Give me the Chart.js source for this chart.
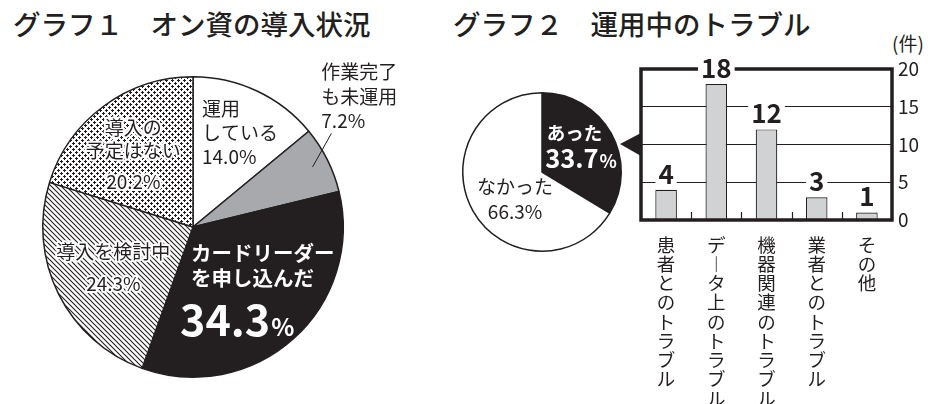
<!DOCTYPE html>
<html>
<head>
<meta charset="utf-8">
<script src="https://cdn.jsdelivr.net/npm/chart.js@4.4.1/dist/chart.umd.min.js"></script>
<style>
  body { margin:0; width:936px; height:404px; background:#fff; position:relative; overflow:hidden;
         font-family:"Noto Sans CJK JP", sans-serif; color:#231f20; }
  .title { position:absolute; top:2px; font-size:27.5px; font-weight:500; line-height:42px; white-space:pre; }
  .unit { position:absolute; left:892px; top:32px; font-size:19px; line-height:22px; }
  canvas { position:absolute; }
</style>
</head>
<body>
<div class="title" style="left:13px">グラフ１　オン資の導入状況</div>
<div class="title" style="left:453px">グラフ２　運用中のトラブル</div>
<div class="unit">(件)</div>
<canvas id="pie1" width="440" height="364" style="left:0;top:40px"></canvas>
<canvas id="pie2" width="190" height="180" style="left:450px;top:80px"></canvas>
<canvas id="bar" width="336" height="374" style="left:600px;top:30px"></canvas>
<script>
// グラフ１ データ
const pie1Categories = ['運用\nしている', '作業完了\nも未運用', 'カードリーダー\nを申し込んだ', '導入を検討中', '導入の\n予定はない'];
const pie1Values = [14.0, 7.2, 34.3, 24.3, 20.2];
// グラフ２ データ
const pie2Categories = ['あった', 'なかった'];
const pie2Values = [33.7, 66.3];
const barCategories = ['患者とのトラブル', 'データ上のトラブル', '機器関連のトラブル', '業者とのトラブル', 'その他'];
const barValues = [4, 18, 12, 3, 1];
const barTicks = [0, 5, 10, 15, 20];

const INK = '#231f20';
const FONT = '"Noto Sans CJK JP", sans-serif';
Chart.defaults.font.family = FONT;
Chart.defaults.color = INK;

// 斜線の模様
function hatchPattern() {
  const c = document.createElement('canvas');
  c.width = c.height = 5;
  const g = c.getContext('2d');
  g.fillStyle = '#fff'; g.fillRect(0, 0, 5, 5);
  g.strokeStyle = INK; g.lineWidth = 1.1;
  g.beginPath();
  g.moveTo(-1, -1); g.lineTo(6, 6);
  g.moveTo(-1, 4); g.lineTo(1, 6);
  g.moveTo(4, -1); g.lineTo(6, 1);
  g.stroke();
  return g.createPattern(c, 'repeat');
}
// 点の模様
function dotPattern() {
  const c = document.createElement('canvas');
  c.width = c.height = 6;
  const g = c.getContext('2d');
  g.fillStyle = '#fff'; g.fillRect(0, 0, 6, 6);
  g.fillStyle = INK;
  [[0, 0], [3, 3]].forEach(([px, py]) => {
    g.fillRect(px + 1, py, 1, 3);
    g.fillRect(px, py + 1, 3, 1);
  });
  return g.createPattern(c, 'repeat');
}

// ラベルの置き場所（半径を1とした位置）
const pie1Place = [
  { x: 0.06, y: [-0.79, -0.625, -0.465], align: 'left' },
  { x: 0.854, y: [-1.03, -0.865, -0.71], align: 'left', leader: [0.89, 0.921, -0.623] },
  { x: -0.013, y: [0.172, 0.338], align: 'left', bold: true, big: [-0.086, 0.726] },
  { x: -0.53, y: [0.166, 0.377], align: 'center', halo: true },
  { x: -0.397, y: [-0.662, -0.51, -0.298], align: 'center', halo: true }
];

function pct(v) { return v.toFixed(1) + '%'; }

const pie1Labels = {
  id: 'pie1Labels',
  afterDatasetsDraw(chart) {
    const ctx = chart.ctx;
    const arcs = chart.getDatasetMeta(0).data;
    ctx.save();
    arcs.forEach((arc, i) => {
      const p = pie1Place[i];
      const { x: cx, y: cy, outerRadius: r, startAngle, endAngle } =
        arc.getProps(['x', 'y', 'outerRadius', 'startAngle', 'endAngle'], true);
      const lines = pie1Categories[i].split('\n');
      if (!p.big) lines.push(pct(pie1Values[i]));
      ctx.textAlign = p.align;
      ctx.textBaseline = 'middle';
      ctx.font = (p.bold ? 'bold 20.5px ' : '19px ') + FONT;
      lines.forEach((t, k) => {
        const tx = cx + p.x * r, ty = cy + p.y[k] * r;
        if (p.halo) {
          ctx.strokeStyle = '#fff'; ctx.lineWidth = 4; ctx.lineJoin = 'round';
          ctx.strokeText(t, tx, ty);
        }
        ctx.fillStyle = p.bold ? '#fff' : INK;
        ctx.fillText(t, tx, ty);
      });
      if (p.big) {
        const num = pie1Values[i].toFixed(1);
        const bx = cx + p.big[0] * r, by = cy + p.big[1] * r;
        ctx.textAlign = 'left';
        ctx.textBaseline = 'alphabetic';
        ctx.fillStyle = '#fff';
        ctx.font = 'bold 43px ' + FONT;
        ctx.fillText(num, bx, by);
        const w = ctx.measureText(num).width;
        ctx.font = 'bold 24px ' + FONT;
        ctx.fillText('%', bx + w + 1, by);
      }
      if (p.leader) {
        const mid = (startAngle + endAngle) / 2;
        ctx.strokeStyle = INK; ctx.lineWidth = 1;
        ctx.beginPath();
        ctx.moveTo(cx + Math.cos(mid) * r * p.leader[0], cy + Math.sin(mid) * r * p.leader[0]);
        ctx.lineTo(cx + p.leader[1] * r, cy + p.leader[2] * r);
        ctx.stroke();
      }
    });
    ctx.restore();
  }
};

new Chart(document.getElementById('pie1'), {
  type: 'pie',
  data: {
    labels: pie1Categories,
    datasets: [{
      data: pie1Values,
      backgroundColor: ['#ffffff', '#a7a9ac', INK, hatchPattern(), dotPattern()],
      borderColor: INK,
      borderWidth: 1.5
    }]
  },
  options: {
    responsive: false,
    animation: false,
    layout: { padding: { left: 42, top: 36, right: 96, bottom: 26 } },
    plugins: { legend: { display: false }, tooltip: { enabled: false } }
  },
  plugins: [pie1Labels]
});

// グラフ２ 円
const pie2Labels = {
  id: 'pie2Labels',
  afterDatasetsDraw(chart) {
    const ctx = chart.ctx;
    const arc = chart.getDatasetMeta(0).data[0];
    const { x: cx, y: cy, outerRadius: r } = arc.getProps(['x', 'y', 'outerRadius'], true);
    ctx.save();
    // あった
    ctx.fillStyle = '#fff';
    ctx.textAlign = 'left';
    ctx.textBaseline = 'middle';
    ctx.font = 'bold 18.5px ' + FONT;
    ctx.fillText(pie2Categories[0], cx + 0.06 * r, cy - 0.49 * r);
    ctx.textBaseline = 'alphabetic';
    ctx.font = 'bold 25.5px ' + FONT;
    const num = pie2Values[0].toFixed(1);
    const bx = cx + 0.04 * r, by = cy - 0.05 * r;
    ctx.fillText(num, bx, by);
    const w = ctx.measureText(num).width;
    ctx.font = 'bold 18px ' + FONT;
    ctx.fillText('%', bx + w + 1, by);
    // なかった
    ctx.fillStyle = INK;
    ctx.textAlign = 'center';
    ctx.textBaseline = 'middle';
    ctx.font = '19px ' + FONT;
    ctx.fillText(pie2Categories[1], cx - 0.34 * r, cy + 0.19 * r);
    ctx.fillText(pct(pie2Values[1]), cx - 0.34 * r, cy + 0.5 * r);
    ctx.restore();
  }
};

new Chart(document.getElementById('pie2'), {
  type: 'pie',
  data: {
    labels: pie2Categories,
    datasets: [{
      data: pie2Values,
      backgroundColor: [INK, '#ffffff'],
      borderColor: INK,
      borderWidth: 1.5
    }]
  },
  options: {
    responsive: false,
    animation: false,
    layout: { padding: { left: 12, top: 12, right: 18, bottom: 8 } },
    plugins: { legend: { display: false }, tooltip: { enabled: false } }
  },
  plugins: [pie2Labels]
});

// グラフ２ 棒
const barDeco = {
  id: 'barDeco',
  afterDatasetsDraw(chart) {
    const { ctx, chartArea: a, scales: { x } } = chart;
    ctx.save();
    ctx.strokeStyle = INK;
    ctx.lineWidth = 1.2;
    for (let i = 0; i < barCategories.length - 1; i++) {
      const bx = Math.round((x.getPixelForValue(i) + x.getPixelForValue(i + 1)) / 2) + 0.5;
      ctx.beginPath(); ctx.moveTo(bx, a.bottom); ctx.lineTo(bx, a.bottom - 8); ctx.stroke();
    }
    // 枠
    ctx.lineWidth = 3.5;
    ctx.strokeRect(a.left, a.top, a.right - a.left, a.bottom - a.top);
    // 円からの吹き出し
    ctx.fillStyle = INK;
    ctx.beginPath();
    ctx.moveTo(a.left, a.top + 64);
    ctx.lineTo(a.left - 21, a.top + 75);
    ctx.lineTo(a.left, a.top + 87);
    ctx.closePath();
    ctx.fill();
    ctx.restore();
  },
  afterDraw(chart) {
    const ctx = chart.ctx;
    const bars = chart.getDatasetMeta(0).data;
    ctx.save();
    ctx.font = 'bold 26px ' + FONT;
    ctx.textAlign = 'center';
    ctx.textBaseline = 'middle';
    bars.forEach((b, i) => {
      const t = String(barValues[i]);
      const ty = b.y - 17;
      const w = ctx.measureText(t).width + 6;
      ctx.fillStyle = '#fff';
      ctx.fillRect(b.x - w / 2, ty - 12, w, 23);
      ctx.fillStyle = INK;
      ctx.fillText(t, b.x, ty + 1);
    });
    ctx.restore();
  }
};

new Chart(document.getElementById('bar'), {
  type: 'bar',
  data: {
    labels: barCategories,
    datasets: [{
      data: barValues,
      backgroundColor: '#d1d2d4',
      borderColor: INK,
      borderWidth: 1.2,
      borderSkipped: 'bottom',
      barPercentage: 0.43,
      categoryPercentage: 1
    }]
  },
  options: {
    responsive: false,
    animation: false,
    layout: { padding: { left: 41, top: 39, right: 0, bottom: 0 } },
    plugins: { legend: { display: false }, tooltip: { enabled: false } },
    scales: {
      x: {
        grid: { display: false },
        border: { display: false },
        ticks: {
          autoSkip: false, maxRotation: 0, minRotation: 0, padding: 7,
          font: { size: 18.5, lineHeight: 1.04 },
          // 縦書き：一文字ずつ改行
          callback(v) { return Array.from(barCategories[v]).map(ch => ch === 'ー' ? '︱' : ch); }
        },
        afterFit(s) { s.height = 184; }
      },
      y: {
        position: 'right',
        min: barTicks[0],
        max: barTicks[barTicks.length - 1],
        grid: { color: INK, lineWidth: 1, drawTicks: false },
        border: { display: false },
        ticks: {
          stepSize: barTicks[1] - barTicks[0], padding: 6,
          font: { size: 19 }
        },
        afterFit(s) { s.width = 44; }
      }
    }
  },
  plugins: [barDeco]
});
</script>
</body>
</html>
